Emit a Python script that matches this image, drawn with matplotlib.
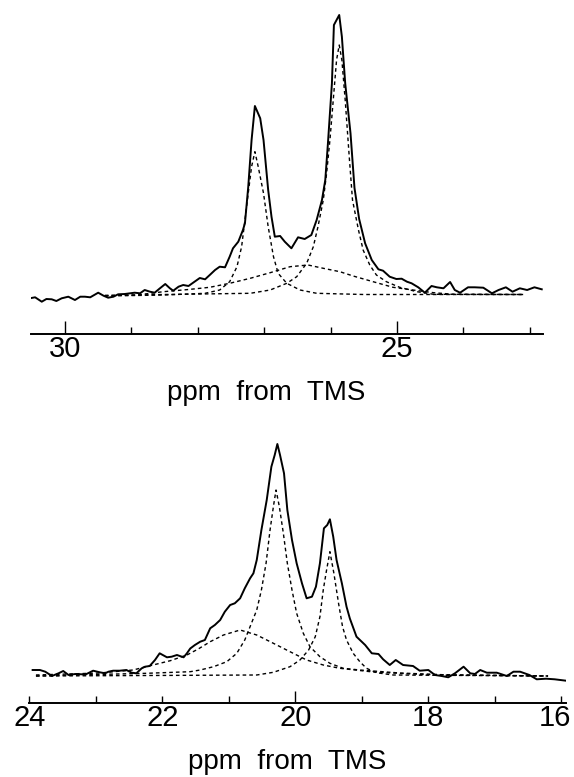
import matplotlib
matplotlib.use("Agg")
import matplotlib.pyplot as plt
import matplotlib.transforms as mtransforms

plt.rcParams["font.family"] = ["Liberation Sans", "DejaVu Sans"]

# ── 上段: 22.8–30.5 ppm ──────────────────────────────────────────────────────
top_ppm = [30.53, 30.45, 30.35, 30.28, 30.20, 30.13, 30.05, 29.95, 29.85, 29.77,
           29.70, 29.62, 29.50, 29.42, 29.35, 29.27, 29.20, 29.10, 29.02, 28.95,
           28.87, 28.80, 28.72, 28.65, 28.57, 28.49, 28.42, 28.37, 28.29, 28.22,
           28.14, 28.07, 27.97, 27.89, 27.82, 27.74, 27.67, 27.59, 27.52, 27.47,
           27.39, 27.32, 27.29, 27.24, 27.19, 27.14, 27.06, 27.01, 26.94, 26.89,
           26.84, 26.76, 26.69, 26.59, 26.49, 26.39, 26.29, 26.21, 26.13, 26.08,
           26.04, 25.98, 25.95, 25.87, 25.83, 25.78, 25.70, 25.64, 25.57, 25.48,
           25.38, 25.28, 25.21, 25.11, 25.01, 24.93, 24.85, 24.78, 24.68, 24.58,
           24.48, 24.40, 24.30, 24.20, 24.13, 24.05, 23.93, 23.83, 23.70, 23.57,
           23.47, 23.36, 23.26, 23.15, 23.04, 22.93, 22.82]
top_total = [-2.3, -1.3, -5.7, -3.0, -3.3, -5.0, -2.3, -0.7, -4.0, -0.7,
             -0.7, -1.3, 3.3, 0.3, -1.7, -0.7, 1.7, 2.0, 2.7, 3.3,
             2.7, 6.0, 4.3, 3.3, 7.7, 12.0, 7.7, 5.3, 9.3, 11.0,
             10.0, 13.3, 18.0, 16.7, 21.0, 26.0, 29.3, 28.7, 39.3, 47.7,
             54.3, 66.0, 72.7, 109.3, 156.0, 190.0, 177.7, 156.0, 106.0, 79.3,
             59.3, 60.0, 54.3, 47.7, 58.7, 57.0, 61.0, 76.0, 96.0, 116.0,
             152.7, 212.7, 271.0, 281.0, 259.3, 212.7, 162.7, 108.0, 77.0, 52.7,
             36.0, 26.7, 25.3, 19.3, 17.0, 17.3, 14.3, 12.7, 8.7, 3.3,
             10.0, 8.7, 7.7, 14.0, 6.0, 3.3, 8.7, 8.7, 8.3, 2.7,
             6.0, 8.7, 4.3, 7.7, 6.0, 8.7, 6.7]

top_a_ppm = [29.40, 28.50, 27.89, 27.67, 27.52, 27.41, 27.34, 27.29, 27.24, 27.19,
             27.14, 27.09, 27.01, 26.94, 26.86, 26.79, 26.66, 26.46, 26.21, 25.50,
             24.65, 23.10]
top_a = [0.0, 1.0, 2.7, 6.0, 14.3, 29.3, 49.3, 76.0, 103.0, 129.3,
         144.3, 129.3, 102.7, 69.3, 39.3, 22.7, 12.7, 6.0, 2.7, 1.5,
         1.5, 1.5]

top_b_ppm = [29.40, 28.50, 27.21, 26.91, 26.66, 26.51, 26.36, 26.26, 26.19, 26.11,
             26.06, 26.01, 25.96, 25.91, 25.87, 25.83, 25.78, 25.72, 25.67, 25.58,
             25.51, 25.41, 25.31, 25.16, 24.96, 24.70, 24.45, 23.10]
top_b = [0.5, 1.5, 2.7, 6.0, 12.7, 19.3, 32.7, 49.3, 69.3, 96.0,
         122.7, 156.0, 196.0, 236.0, 251.0, 236.0, 196.0, 140.0, 96.0, 66.0,
         46.0, 31.0, 21.0, 14.3, 8.7, 4.3, 1.7, 1.5]

top_c_ppm = [29.40, 28.92, 28.52, 28.14, 27.82, 27.52, 27.21, 26.91, 26.61, 26.34,
             26.11, 25.86, 25.66, 25.36, 25.06, 24.76, 24.45, 24.15, 23.10]
top_c = [0.5, 1.0, 4.3, 6.5, 8.7, 12.7, 17.7, 23.3, 29.3, 31.0,
         27.7, 24.3, 20.0, 14.3, 8.7, 6.0, 3.3, 1.7, 1.5]

# ── 下段: 16–24 ppm ──────────────────────────────────────────────────────────
bot_ppm = [23.95, 23.84, 23.76, 23.66, 23.56, 23.49, 23.41, 23.31, 23.21, 23.14,
           23.04, 22.94, 22.86, 22.81, 22.74, 22.64, 22.54, 22.46, 22.39, 22.31,
           22.26, 22.19, 22.11, 22.04, 21.93, 21.86, 21.78, 21.68, 21.63, 21.58,
           21.51, 21.43, 21.36, 21.28, 21.21, 21.13, 21.06, 20.98, 20.91, 20.83,
           20.76, 20.68, 20.63, 20.58, 20.51, 20.43, 20.36, 20.31, 20.27, 20.23,
           20.17, 20.12, 20.05, 19.98, 19.90, 19.83, 19.75, 19.69, 19.63, 19.57,
           19.52, 19.48, 19.43, 19.38, 19.30, 19.23, 19.18, 19.08, 18.95, 18.85,
           18.75, 18.68, 18.58, 18.49, 18.38, 18.23, 18.13, 18.00, 17.90, 17.80,
           17.70, 17.60, 17.47, 17.37, 17.30, 17.22, 17.12, 16.97, 16.82, 16.72,
           16.62, 16.48, 16.37, 16.23, 16.10, 15.93]
bot_total = [6.0, 6.0, 4.3, 0.0, 2.7, 5.0, 1.0, 2.0, 1.7, 2.0,
             5.3, 3.7, 2.7, 4.3, 5.3, 5.3, 6.0, 3.3, 2.7, 7.7,
             9.3, 10.0, 16.0, 22.7, 18.7, 19.3, 21.0, 18.7, 22.7, 27.5,
             31.0, 34.3, 36.0, 47.7, 51.0, 56.0, 64.3, 71.0, 72.7, 77.7,
             87.7, 97.7, 102.7, 116.0, 146.0, 176.0, 209.3, 221.0, 232.0, 221.0,
             202.7, 166.0, 136.0, 112.7, 92.7, 77.7, 79.3, 89.3, 112.7, 147.7,
             151.0, 156.7, 139.3, 116.0, 92.7, 69.3, 57.5, 39.3, 31.0, 22.7,
             22.0, 16.7, 11.0, 16.0, 11.0, 10.0, 5.3, 6.0, 1.0, 0.0,
             -1.3, 2.7, 9.3, 2.7, 2.0, 6.0, 3.3, 3.3, 0.0, 4.3,
             4.3, 1.0, -3.3, -2.7, -3.3, -4.7]

bot_d1_ppm = [23.90, 22.24, 21.58, 21.43, 21.23, 21.03, 20.88, 20.76, 20.66, 20.58,
              20.51, 20.44, 20.38, 20.33, 20.29, 20.24, 20.18, 20.12, 20.05, 19.98,
              19.88, 19.78, 19.63, 19.48, 19.28, 19.03, 18.43, 17.67, 16.20]
bot_d1 = [0.0, 2.7, 4.3, 6.0, 9.3, 14.3, 22.7, 36.0, 52.7, 66.0,
          86.0, 112.7, 146.0, 169.3, 186.0, 169.3, 142.7, 112.7, 86.0, 62.7,
          42.7, 29.3, 19.3, 12.7, 7.7, 6.0, 3.0, 1.0, 0.0]

bot_d2_ppm = [23.90, 20.58, 20.33, 20.08, 19.93, 19.80, 19.70, 19.63, 19.58, 19.53,
              19.48, 19.42, 19.35, 19.29, 19.23, 19.13, 19.03, 18.93, 18.78, 18.53,
              16.20]
bot_d2 = [0.0, 1.0, 3.7, 9.3, 16.0, 26.0, 39.3, 59.3, 86.0, 106.0,
          124.3, 102.7, 72.7, 49.3, 36.0, 22.7, 14.3, 7.7, 3.3, 1.0,
          0.0]

bot_c_ppm = [23.90, 22.94, 22.44, 22.14, 21.88, 21.63, 21.46, 21.28, 21.08, 20.83,
             20.58, 20.33, 20.08, 19.83, 19.58, 19.33, 18.83, 18.08, 16.20]
bot_c = [1.0, 3.0, 6.0, 11.0, 15.3, 21.0, 27.0, 34.3, 41.0, 46.0,
         41.0, 32.7, 24.3, 16.0, 11.0, 7.7, 4.0, 1.5, 0.0]

top_major = [30, 25]
top_minor = [29, 28, 27, 26, 24, 23]
bot_major = [20]
bot_minor = [24, 23, 22, 21, 19, 18, 17, 16]
bot_minor_labels = ["24", "", "22", "", "", "18", "", "16"]

XLABEL = "ppm  from  TMS"
DASH = (0, (2.6, 2.2))


def style_axis(ax):
    for side in ["top", "left", "right"]:
        ax.spines[side].set_visible(False)
    ax.spines["bottom"].set_linewidth(1.4)
    ax.set_yticks([])
    ax.set_facecolor("none")


fig = plt.figure(figsize=(5.74, 7.77), dpi=100)

# 上段
ax1 = fig.add_axes([31 / 574, 1 - 334 / 777, 512 / 574, 324 / 777])
ax1.plot(top_ppm, top_total, color="black", lw=1.4)
for p, v in [(top_a_ppm, top_a), (top_b_ppm, top_b), (top_c_ppm, top_c)]:
    ax1.plot(p, v, color="black", lw=1.0, linestyle=DASH)
ax1.set_xlim(30.512, 22.801)
ax1.set_ylim(-38, 286)
style_axis(ax1)
ax1.set_xticks(top_major)
ax1.set_xticklabels([str(t) for t in top_major])
ax1.set_xticks(top_minor, minor=True)
ax1.tick_params(axis="x", which="major", direction="in", length=9.5, width=1.0,
                labelsize=21, pad=1)
ax1.tick_params(axis="x", which="minor", direction="in", length=5, width=1.0)

# 下段
ax2 = fig.add_axes([29 / 574, 1 - 703 / 777, 537 / 574, 273 / 777])
ax2.plot(bot_ppm, bot_total, color="black", lw=1.4)
for p, v in [(bot_d1_ppm, bot_d1), (bot_d2_ppm, bot_d2), (bot_c_ppm, bot_c)]:
    ax2.plot(p, v, color="black", lw=1.0, linestyle=DASH)
ax2.set_xlim(24.0045, 15.93)
ax2.set_ylim(-27, 246)
style_axis(ax2)
ax2.set_xticks(bot_major)
ax2.set_xticklabels([str(t) for t in bot_major])
ax2.set_xticks(bot_minor, minor=True)
ax2.set_xticklabels(bot_minor_labels, minor=True)
ax2.tick_params(axis="x", which="major", direction="in", length=9, width=1.0,
                labelsize=21, pad=1)
ax2.tick_params(axis="x", which="minor", direction="in", length=5, width=1.0,
                labelsize=21, pad=1)

# 右端の "16" がはみ出さないよう少し左へ
lab16 = ax2.xaxis.get_minor_ticks()[-1].label1
lab16.set_transform(lab16.get_transform()
                    + mtransforms.ScaledTranslation(-0.06, 0, fig.dpi_scale_trans))

fig.text(266 / 574, 1 - 400 / 777, XLABEL, ha="center", va="baseline", fontsize=20)
fig.text(287 / 574, 1 - 769 / 777, XLABEL, ha="center", va="baseline", fontsize=20)

fig.savefig("out.png", dpi=100, facecolor="white")
